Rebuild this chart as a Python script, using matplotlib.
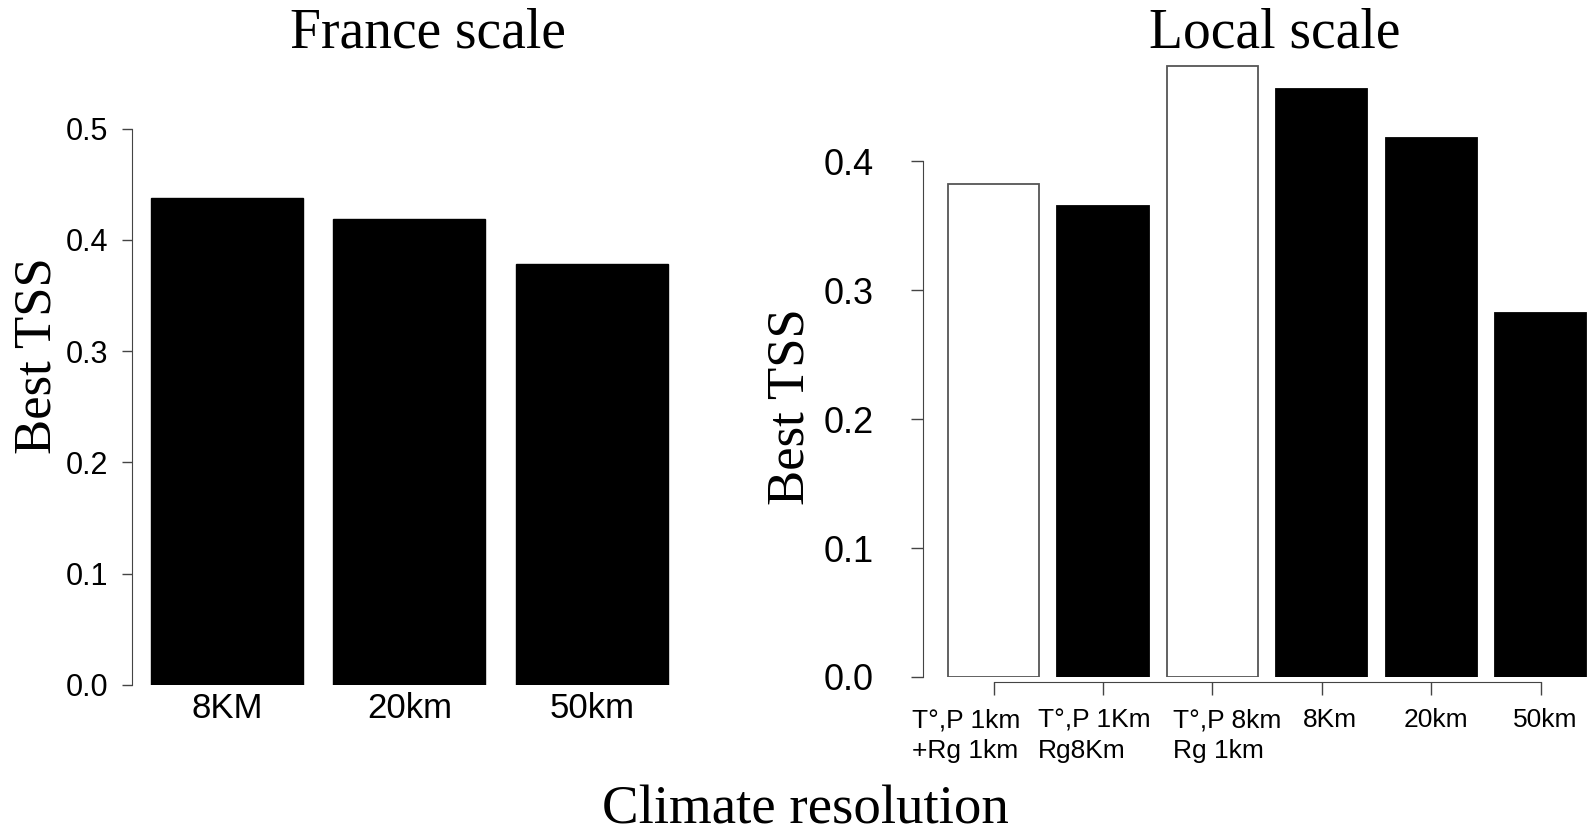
import matplotlib
matplotlib.use("Agg")
import matplotlib.pyplot as plt
from matplotlib.transforms import ScaledTranslation

# France scale
france_labels = ["8KM", "20km", "50km"]
france_tss = [0.438, 0.419, 0.378]

# Local scale
local_labels = ["T°,P 1km\n+Rg 1km", "T°,P 1Km\nRg8Km", "T°,P 8km\nRg 1km", "8Km", "20km", "50km"]
local_tss = [0.382, 0.365, 0.474, 0.456, 0.418, 0.282]
local_fill = ["white", "black", "white", "black", "black", "black"]

W, H = 1587, 832
fig = plt.figure(figsize=(W / 100, H / 100), dpi=100)
sans = "Liberation Sans"
serif = "Liberation Serif"


def px_axes(x0, x1, y0, y1):
    # pixel box (top-left origin) -> figure fraction
    return fig.add_axes([x0 / W, (H - y1) / H, (x1 - x0) / W, (y1 - y0) / H])


# left panel
ax1 = px_axes(132, 680, 128.5, 685)
for s in ["top", "right", "bottom"]:
    ax1.spines[s].set_visible(False)
ax1.spines["left"].set_color("#444444")
pos1 = [i * 1.2 for i in range(len(france_tss))]
ax1.bar(pos1, france_tss, width=1.0, color="black", edgecolor="black")
ax1.set_xlim(-0.625, 2.98)
ax1.set_ylim(0, 0.5)
ax1.set_yticks([0.0, 0.1, 0.2, 0.3, 0.4, 0.5])
ax1.set_yticklabels(["0.0", "0.1", "0.2", "0.3", "0.4", "0.5"], family=sans, fontsize=22)
ax1.set_xticks(pos1)
ax1.set_xticklabels(france_labels, family=sans, fontsize=25)
ax1.tick_params(axis="x", length=0, pad=5)
ax1.tick_params(axis="y", length=7.2, width=1, color="#444444", pad=10)
ax1.set_ylabel("Best TSS", family=serif, fontsize=38)
ax1.yaxis.set_label_coords(-0.128, 0.591)

# right panel
ax2 = px_axes(923, 1587, 58, 677)
ax2.spines["top"].set_visible(False)
ax2.spines["right"].set_visible(False)
ax2.spines["bottom"].set_position(("outward", 3.6))
ax2.spines["left"].set_color("#444444")
ax2.spines["bottom"].set_color("#444444")
pos2 = [i * 1.2 for i in range(len(local_tss))]
edges = ["#555555" if c == "white" else "black" for c in local_fill]
ax2.bar(pos2, local_tss, width=1.0, color=local_fill, edgecolor=edges, linewidth=1.3)
ax2.set_xlim(-0.774, 6.51)
ax2.set_ylim(0, 0.48)
ax2.spines["left"].set_bounds(0, 0.4)
ax2.spines["bottom"].set_bounds(pos2[0], pos2[-1])
ax2.set_yticks([0.0, 0.1, 0.2, 0.3, 0.4])
ax2.set_yticklabels(["0.0", "0.1", "0.2", "0.3", "0.4"], family=sans, fontsize=26)
ax2.set_xticks(pos2)
ax2.set_xticklabels(local_labels, family=sans, fontsize=19, multialignment="left", linespacing=1.38)
ax2.tick_params(axis="x", length=9.4, width=1, color="#444444", pad=9.5)
ax2.tick_params(axis="y", length=8.6, width=1, color="#444444", pad=27)
# labels in the original sit a little off their ticks
shifts = [-27, -9, 15, 8, 5, 5]
for lab, dx in zip(ax2.get_xticklabels(), shifts):
    lab.set_transform(lab.get_transform() + ScaledTranslation(dx / 100, 0, fig.dpi_scale_trans))
ax2.set_ylabel("Best TSS", family=serif, fontsize=38)
ax2.yaxis.set_label_coords(-0.164, 0.436)

fig.text(428 / W, 1 - 48 / H, "France scale", family=serif, fontsize=40, ha="center", va="baseline")
fig.text(1275 / W, 1 - 48 / H, "Local scale", family=serif, fontsize=40, ha="center", va="baseline")
fig.text(805 / W, 1 - 823 / H, "Climate resolution", family=serif, fontsize=39.5, ha="center", va="baseline")

fig.savefig("out.png", dpi=100, facecolor="white")
